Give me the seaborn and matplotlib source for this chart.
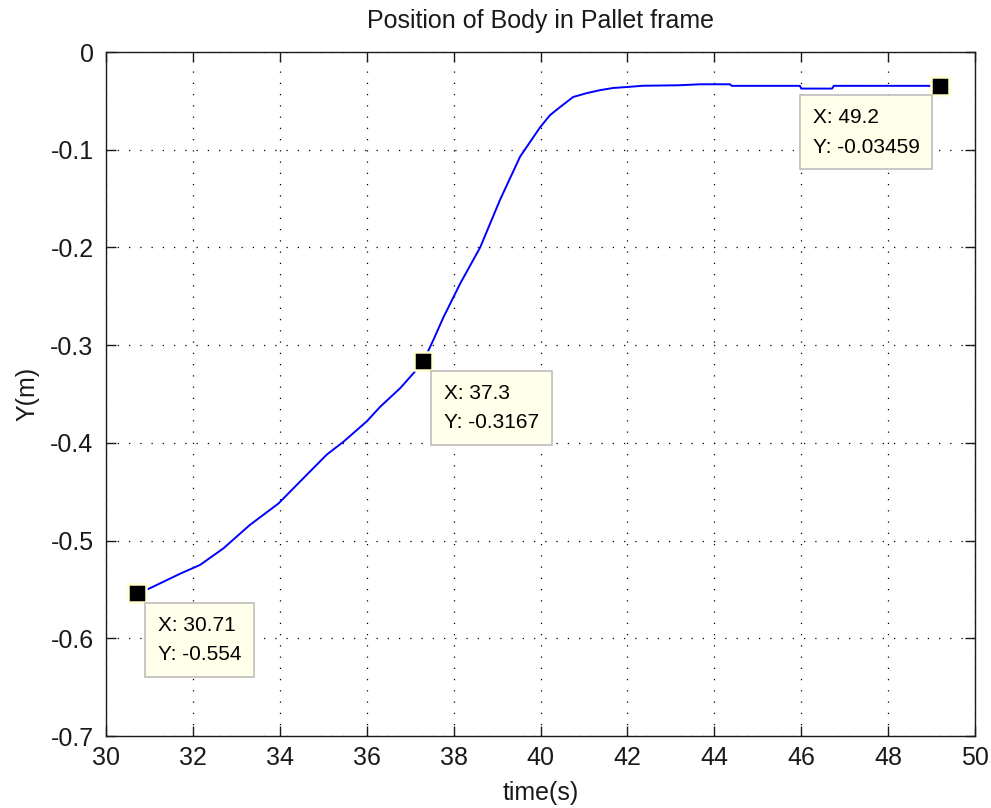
import numpy as np
import pandas as pd
import matplotlib
matplotlib.use("Agg")
import matplotlib.pyplot as plt
import seaborn as sns

# Body position (Y) in the pallet frame over time
time_s = [30.71, 31.00, 31.70, 32.16, 32.70, 33.31, 33.97, 34.39, 35.08, 35.46,
          36.00, 36.31, 36.77, 37.11, 37.30, 37.53, 37.76, 38.15, 38.61, 39.07, 39.53,
          39.76, 39.99, 40.22, 40.45, 40.75, 41.07, 41.37, 41.67, 41.99, 42.36,
          43.20, 43.67, 44.36, 44.40, 45.97, 46.00, 46.71, 46.75, 49.20]
y_m = [-0.554, -0.549, -0.534, -0.525, -0.508, -0.484, -0.462, -0.443, -0.412, -0.399,
       -0.378, -0.363, -0.344, -0.327, -0.3167, -0.295, -0.272, -0.237, -0.200, -0.151, -0.107,
       -0.092, -0.077, -0.0645, -0.0563, -0.046, -0.042, -0.039, -0.0368, -0.0358, -0.0345,
       -0.0340, -0.0330, -0.0330, -0.0346, -0.0346, -0.0374, -0.0374, -0.0346, -0.03459]

# Data tips
tip_x = [30.71, 37.3, 49.2]
tip_y = [-0.554, -0.3167, -0.03459]
tip_x_text = ["30.71", "37.3", "49.2"]
tip_y_text = ["-0.554", "-0.3167", "-0.03459"]

x_ticks = [30, 32, 34, 36, 38, 40, 42, 44, 46, 48, 50]
y_ticks = [0, -0.1, -0.2, -0.3, -0.4, -0.5, -0.6, -0.7]
y_tick_labels = ["0", "-0.1", "-0.2", "-0.3", "-0.4", "-0.5", "-0.6", "-0.7"]

sns.set_style("white")
plt.rcParams["font.family"] = ["Liberation Sans", "DejaVu Sans"]
plt.rcParams["axes.unicode_minus"] = False

fig = plt.figure(figsize=(9.91, 8.08), dpi=100, facecolor="white")
ax = fig.add_axes([0.107, 0.0891, 0.8769, 0.8465])

df = pd.DataFrame({"time": time_s, "y": y_m})
sns.lineplot(data=df, x="time", y="y", sort=False, estimator=None,
             color="#0000FF", linewidth=1.4, ax=ax)

tips = pd.DataFrame({"time": tip_x, "y": tip_y})
sns.scatterplot(data=tips, x="time", y="y", marker="s", s=150,
                color="black", edgecolor="#FFFFD0", linewidth=1.8,
                ax=ax, zorder=5)

ax.set_xlim(30, 50)
ax.set_ylim(-0.7, 0)
ax.set_xticks(x_ticks)
ax.set_xticklabels([str(t) for t in x_ticks])
ax.set_yticks(y_ticks)
ax.set_yticklabels(y_tick_labels)

ax.grid(True, color="black", linestyle=(0, (1, 8)), linewidth=0.9)
ax.set_axisbelow(True)
for sp in ax.spines.values():
    sp.set_color("#1a1a1a")
    sp.set_linewidth(1.0)
    sp.set_visible(True)

ax.tick_params(direction="in", length=7, width=1.0, top=True, right=True,
               bottom=True, left=True, labelsize=18, colors="#1a1a1a")
ax.tick_params(axis="x", pad=7)
ax.tick_params(axis="y", pad=9)

ax.set_title("Position of Body in Pallet frame", fontsize=18, color="#1a1a1a", pad=17)
ax.set_xlabel("time(s)", fontsize=18, color="#1a1a1a", labelpad=8)
ax.set_ylabel("Y(m)", fontsize=18, color="#1a1a1a", labelpad=8)

# data tip labels: offsets in points, (dx, dy, ha)
tip_offsets = [(15, -16, "left"), (15, -16, "left"), (-15, -16, "right")]
for xv, yv, xs, ys, (dx, dy, ha) in zip(tip_x, tip_y, tip_x_text, tip_y_text, tip_offsets):
    ax.annotate(f"X: {xs}\nY: {ys}", xy=(xv, yv), xytext=(dx, dy),
                textcoords="offset points", ha=ha, va="top", multialignment="left",
                fontsize=15, color="black", linespacing=1.7,
                bbox=dict(boxstyle="square,pad=0.62", fc="#FFFFEA", ec="#BEBEBE", lw=1.2),
                zorder=6)

fig.savefig("out.png", dpi=100, facecolor="white")
